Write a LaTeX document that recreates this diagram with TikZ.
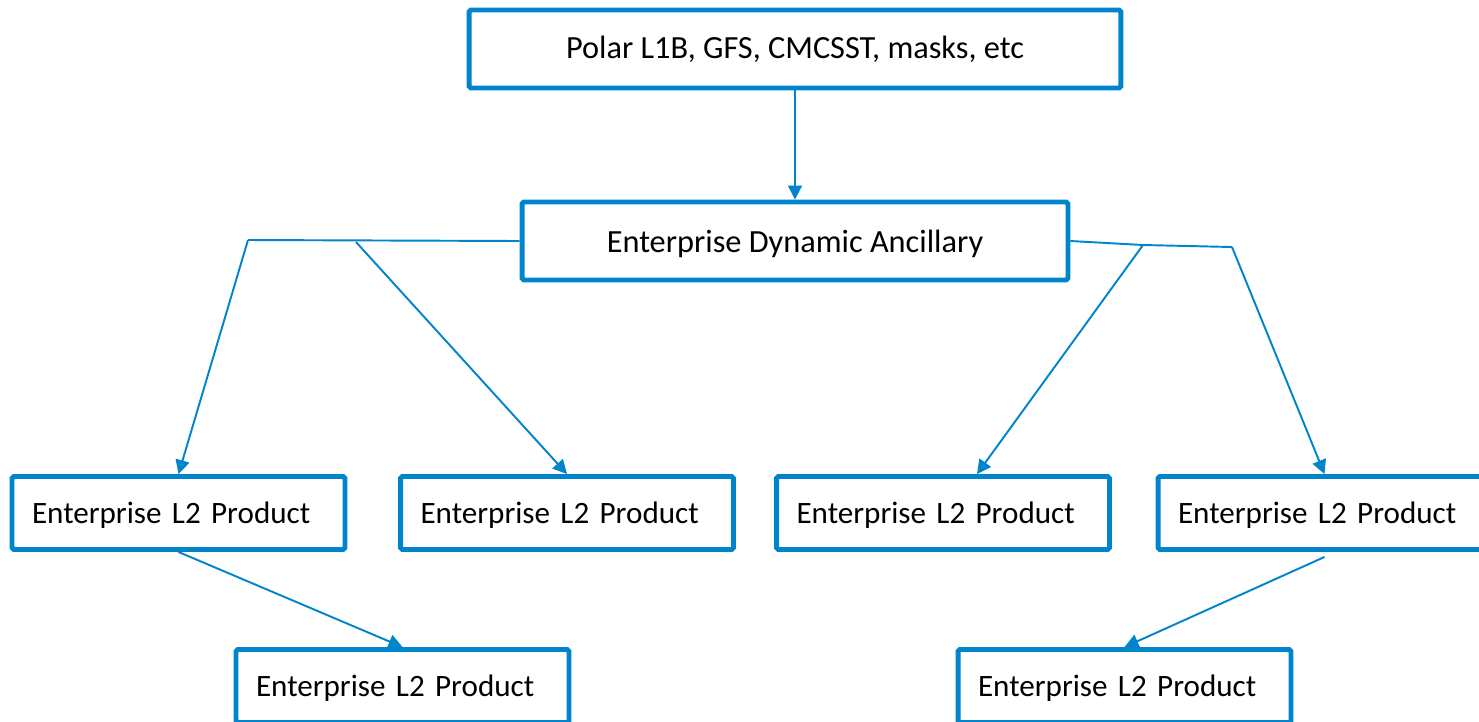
\documentclass[tikz,border=0pt]{standalone}
\usepackage{fontspec}
\setmainfont{Carlito}
\usetikzlibrary{arrows.meta,calc}
\definecolor{boxblue}{RGB}{0,132,204}

\begin{document}
\begin{tikzpicture}[x=0.02cm, y=-0.02cm,
  box/.style={draw=boxblue, line width=2.8pt, rounded corners=1pt, inner sep=0pt,
    font=\fontsize{18.4}{21}\selectfont, minimum height=1.56cm},
  prod/.style={box, font=\fontsize{17.7}{21}\selectfont, minimum height=1.46cm, text depth=0pt,
    text width=5.86cm, inner xsep=0.4cm, align=left},
  link/.style={draw=boxblue, line width=1.1pt},
  arr/.style={link, -{Triangle[length=8pt,width=8pt]}}]

\clip (0,0) rectangle (1479,721);
\useasboundingbox (0,0) rectangle (1479,721);

\node[box, minimum width=13.04cm] (src) at (795,49)  {Polar L1B, GFS, CMCSST, masks, etc};
\node[box, minimum width=10.92cm, text depth=0pt] (anc) at (795,241) {Enterprise Dynamic Ancillary};

\node[prod] (p1) at (178.5,513)  {Enterprise L2 Product};
\node[prod] (p2) at (567,513)    {Enterprise L2 Product};
\node[prod] (p3) at (943,513)    {Enterprise L2 Product};
\node[prod] (p4) at (1324.5,513) {Enterprise L2 Product};
\node[prod] (p5) at (402.5,686)  {Enterprise L2 Product};
\node[prod] (p6) at (1124.5,686) {Enterprise L2 Product};

\coordinate (l1) at (248,240);
\coordinate (l2) at (356,242);
\coordinate (r1) at (1143,245);
\coordinate (r2) at (1232,247);

\draw[arr] (src.south) -- (anc.north);
\draw[link] (anc.west) -- (l1);
\draw[link] (anc.east) -- (r1) -- (r2);
\draw[arr] (l1) -- (p1.north);
\draw[arr] (l2) -- (p2.north);
\draw[arr] (r1) -- ($(p3.north)+(34,0)$);
\draw[arr] (r2) -- (p4.north);
\draw[arr] (p1.south) -- (p5.north);
\draw[arr] ($(p4.south)+(0,5)$) -- (p6.north);

\end{tikzpicture}
\end{document}
